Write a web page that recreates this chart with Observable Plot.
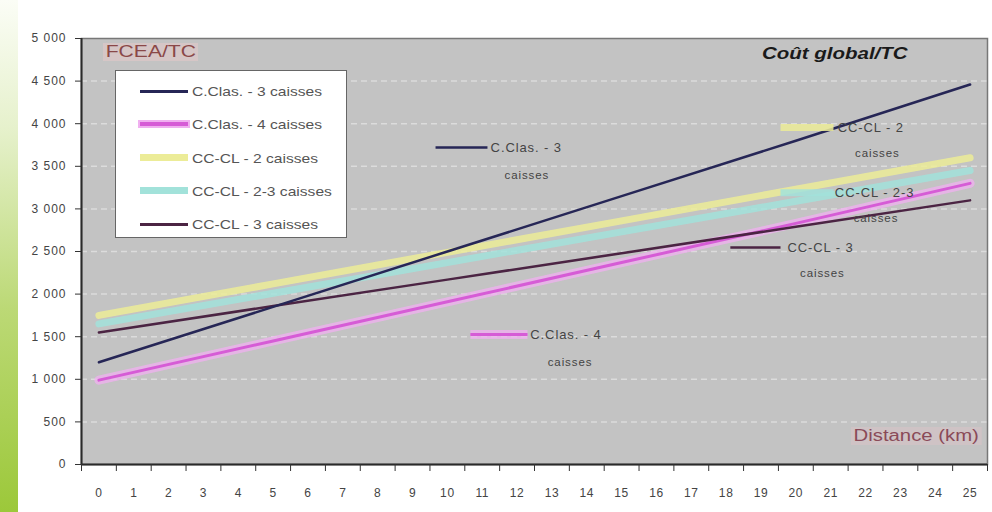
<!DOCTYPE html>
<html><head><meta charset="utf-8">
<script src="https://cdn.jsdelivr.net/npm/d3@7"></script>
<script src="https://cdn.jsdelivr.net/npm/@observablehq/plot@0.6"></script>
<style>
body{margin:0;background:#fff;font-family:"Liberation Sans",Arial,sans-serif;}
#wrap{position:relative;width:992px;height:512px;overflow:hidden;background:#fff;}
#chart{position:absolute;left:0;top:0;}
#strip{position:absolute;left:0;top:0;width:18px;height:512px;background:linear-gradient(to bottom,#fbfdf6 0%,#e6f1cc 25%,#bcd976 60%,#9cc83a 100%);}
.ov{position:absolute;white-space:nowrap;line-height:1;transform-origin:left center;}
#legend{position:absolute;left:115px;top:70px;width:232px;height:168px;background:#fff;border:1.5px solid #666;box-sizing:border-box;}
.lrow{position:absolute;left:0;height:20px;width:230px;}
.lseg{position:absolute;left:24px;width:48px;top:9px;}
.ltxt{position:absolute;left:76px;top:3px;font-size:13px;color:#555;transform:scaleX(1.2);transform-origin:left center;white-space:nowrap;}
#chart svg g[aria-label="y-axis tick label"] text{letter-spacing:1px;}
#chart svg g[aria-label="x-axis tick label"] text{letter-spacing:0.6px;}
#chart svg g.ann text{letter-spacing:0.9px;}
</style></head>
<body><div id="wrap"><div id="chart"></div><div id="strip"></div></div>
<script>
// ---- data ----
const distance = [0, 5, 10, 15, 20, 25];
const xLabels = [0,1,2,3,4,5,6,7,8,9,10,11,12,13,14,15,16,17,18,19,20,21,22,23,24,25];
const yTicks = [0, 500, 1000, 1500, 2000, 2500, 3000, 3500, 4000, 4500, 5000];
const seriesNames = ["C.Clas. - 3 caisses", "C.Clas. - 4 caisses", "CC-CL - 2 caisses", "CC-CL - 2-3 caisses", "CC-CL - 3 caisses"];
const cClas3 = [1200, 1850, 2500, 3150, 3800, 4460];
const cClas4 = [990, 1450, 1910, 2370, 2830, 3300];
const ccCl2 = [1750, 2120, 2490, 2860, 3230, 3600];
const ccCl23 = [1650, 2010, 2370, 2730, 3090, 3450];
const ccCl3 = [1550, 1860, 2170, 2480, 2790, 3100];
const annotationTitles = ["C.Clas. - 3", "C.Clas. - 4", "CC-CL - 2", "CC-CL - 2-3", "CC-CL - 3"];

// ---- build table ----
const seriesValues = [cClas3, cClas4, ccCl2, ccCl23, ccCl3];
const rows = [];
seriesNames.forEach((s, i) => distance.forEach((d, j) => rows.push({series: s, d, v: seriesValues[i][j]})));
const bySeries = s => rows.filter(r => r.series === seriesNames[s]);

// ---- styles ----
const styles = [
  {stroke: "#262656", width: 2.5},
  {stroke: "#d65cd6", width: 3, halo: "#f0b0f0", haloW: 9},
  {stroke: "#ecec98", width: 7},
  {stroke: "#a2e2da", width: 7},
  {stroke: "#4b2443", width: 2.5}
];
// annotation layout (segment x1,x2, y; text pos; second line pos)
const annLayout = [
  {x1: 9.66, x2: 11.15, y: 3720, tx: 11.24, cx: 12.28, cy: 3400},
  {x1: 10.66, x2: 12.3, y: 1526, tx: 12.38, cx: 13.52, cy: 1197},
  {x1: 19.56, x2: 21.08, y: 3955, tx: 21.2, cx: 22.34, cy: 3650},
  {x1: 19.56, x2: 21.08, y: 3190, tx: 21.12, cx: 22.3, cy: 2887},
  {x1: 18.12, x2: 19.56, y: 2547, tx: 19.76, cx: 20.76, cy: 2242}
];
const ann = annLayout.map((a, i) => ({...a, title: annotationTitles[i], i}));

const fmt = d => d3.format(",")(d).replace(/,/g, " ");
const boundaries = xLabels.map(d => d + 0.5).concat([-0.5]);

const lineMark = i => {
  const st = styles[i];
  const ms = [];
  if (st.halo) ms.push(Plot.line(bySeries(i), {x: "d", y: "v", stroke: st.halo, strokeWidth: st.haloW, strokeOpacity: 0.75}));
  ms.push(Plot.line(bySeries(i), {x: "d", y: "v", stroke: st.stroke, strokeWidth: st.width, strokeOpacity: st.width > 5 ? 0.85 : 1}));
  return ms;
};
const segMark = i => {
  const st = styles[i];
  const a = ann.filter(d => d.i === i);
  const ms = [];
  if (st.halo) ms.push(Plot.link(a, {x1: "x1", x2: "x2", y1: "y", y2: "y", stroke: st.halo, strokeWidth: st.haloW, strokeOpacity: 0.75}));
  ms.push(Plot.link(a, {x1: "x1", x2: "x2", y1: "y", y2: "y", stroke: st.stroke, strokeWidth: st.width, strokeOpacity: st.width > 5 ? 0.85 : 1}));
  return ms;
};

const chart = Plot.plot({
  width: 992, height: 512,
  marginLeft: 81, marginRight: 5, marginTop: 38, marginBottom: 48,
  style: {fontFamily: "Liberation Sans, Arial, sans-serif", fontSize: "11px", background: "transparent", color: "#444"},
  x: {domain: [-0.5, 25.5]},
  y: {domain: [0, 5000]},
  marks: [
    Plot.frame({fill: "#c3c3c3"}),
    Plot.ruleY(yTicks.filter(d => d > 0 && d < 5000), {stroke: "#dcdcdc", strokeWidth: 1.5, strokeDasharray: "6,4"}),
    Plot.frame({stroke: "#777", strokeWidth: 1.5}),
    ...lineMark(2), ...lineMark(3), ...lineMark(1), ...lineMark(4), ...lineMark(0),
    ...segMark(2), ...segMark(3), ...segMark(1), ...segMark(4), ...segMark(0),
    Plot.text(ann, {x: "tx", y: "y", text: "title", textAnchor: "start", fontSize: 13, fill: "#444", className: "ann"}),
    Plot.text(ann, {x: "cx", y: "cy", text: () => "caisses", textAnchor: "middle", fontSize: 11.5, fill: "#444", className: "ann"}),
    Plot.ruleX([-0.5], {stroke: "#2a2a2a", strokeWidth: 2}),
    Plot.ruleY([0], {stroke: "#2a2a2a", strokeWidth: 2}),
    Plot.axisY({ticks: yTicks, tickFormat: fmt, tickSize: 6, tickPadding: 9, label: null, fontSize: 12, stroke: "#333"}),
    Plot.axisX({ticks: boundaries, tickFormat: () => "", tickSize: 7, label: null, stroke: "#333"}),
    Plot.axisX({ticks: xLabels, tickSize: 0, tickPadding: 24, label: null, fontSize: 12})
  ]
});
document.getElementById("chart").appendChild(chart);
chart.querySelectorAll("g.ann, g[class*='ann']").forEach(g => g.classList.add("ann"));

// ---- overlays: titles and legend ----
const wrap = document.getElementById("wrap");
function addText(txt, css) {
  const el = document.createElement("div");
  el.className = "ov";
  el.textContent = txt;
  el.setAttribute("style", css);
  wrap.appendChild(el);
  return el;
}
addText("FCEA/TC", "left:103px;top:43px;font-size:16px;color:#8a4848;background:rgba(226,200,200,0.6);padding:1px 2px;transform:scaleX(1.32);");
addText("Coût global/TC", "left:762px;top:46px;font-size:16px;font-weight:bold;font-style:italic;color:#1a1a1a;transform:scaleX(1.28);");
addText("Distance (km)", "left:851px;top:427px;font-size:16px;color:#8a4a58;background:rgba(220,196,200,0.5);padding:1px 2px;transform:scaleX(1.27);");

const legend = document.createElement("div");
legend.id = "legend";
wrap.appendChild(legend);
seriesNames.forEach((name, i) => {
  const row = document.createElement("div");
  row.className = "lrow";
  row.style.top = (10 + i * 33.3) + "px";
  const seg = document.createElement("div");
  seg.className = "lseg";
  const st = styles[i];
  const h = st.halo ? 4 : (st.width > 5 ? 7 : 3);
  seg.style.height = h + "px";
  seg.style.marginTop = (-h / 2 + 1) + "px";
  seg.style.background = st.stroke;
  if (st.halo) seg.style.boxShadow = "0 0 0 2px " + st.halo;
  row.appendChild(seg);
  const t = document.createElement("div");
  t.className = "ltxt";
  t.textContent = name;
  row.appendChild(t);
  legend.appendChild(row);
});
</script>
</body></html>
